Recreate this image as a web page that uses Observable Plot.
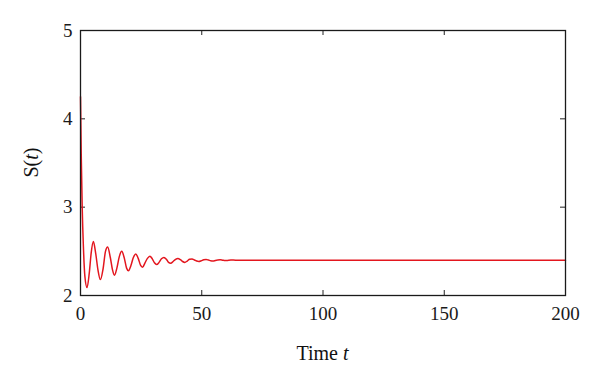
<!DOCTYPE html>
<html>
<head>
<meta charset="utf-8">
<script src="https://cdn.jsdelivr.net/npm/d3@7"></script>
<script src="https://cdn.jsdelivr.net/npm/@observablehq/plot@0.6"></script>
<style>
  html, body { margin: 0; padding: 0; background: #fff; }
  svg { display: block; }
  svg g[aria-label$="tick label"] text { font-family: 'Liberation Serif', 'DejaVu Serif', serif !important; font-size: 19px !important; fill: #1a1a1a; }
</style>
</head>
<body>
<div id="chart"></div>
<script>
// Time values (t)
const timeT = [0, 0.3, 0.7, 1.2, 1.8, 2.7, 3.6, 4.4, 5.3, 6.3, 7.2, 8.2, 9.3, 10.3, 11.2, 12.3, 13.2, 14.0, 15.0, 16.0, 17.0, 18.0, 19.0, 19.8, 20.8, 21.8, 22.8, 23.8, 24.8, 25.6, 26.6, 27.6, 28.6, 29.6, 30.5, 31.4, 32.4, 33.4, 34.4, 35.4, 36.3, 37.2, 38.2, 39.2, 40.2, 41.2, 42.1, 43.0, 44.0, 45.0, 46.0, 47.0, 47.9, 48.8, 49.8, 50.8, 51.8, 52.8, 53.7, 54.6, 55.6, 56.6, 57.6, 58.6, 59.6, 60.6, 62, 64, 70, 80, 100, 120, 150, 180, 200];
// S(t) values
const sValues = [4.25, 3.6, 3.0, 2.55, 2.22, 2.09, 2.25, 2.48, 2.61, 2.47, 2.29, 2.18, 2.3, 2.5, 2.55, 2.43, 2.29, 2.23, 2.31, 2.44, 2.5, 2.43, 2.31, 2.28, 2.34, 2.43, 2.47, 2.42, 2.34, 2.32, 2.37, 2.42, 2.445, 2.415, 2.37, 2.35, 2.375, 2.415, 2.43, 2.41, 2.375, 2.365, 2.385, 2.41, 2.42, 2.405, 2.385, 2.375, 2.39, 2.41, 2.413, 2.402, 2.39, 2.385, 2.393, 2.405, 2.408, 2.401, 2.393, 2.39, 2.396, 2.403, 2.405, 2.4, 2.395, 2.397, 2.401, 2.4, 2.4, 2.4, 2.4, 2.4, 2.4, 2.4, 2.4];

const xTicks = [0, 50, 100, 150, 200];
const yTicks = [2, 3, 4, 5];

const data = timeT.map((t, i) => ({t, s: sValues[i]}));

const W = 600, H = 377;
const mL = 80, mR = 35, mT = 30, mB = 82;
const plotW = W - mL - mR, plotH = H - mT - mB;
const tickLen = 5;
const font = "'Liberation Serif', 'DejaVu Serif', serif";

const chart = Plot.plot({
  width: W,
  height: H,
  marginLeft: mL,
  marginRight: mR,
  marginTop: mT,
  marginBottom: mB,
  style: {fontFamily: font, fontSize: "19px", color: "#1a1a1a", background: "#fff"},
  x: {domain: [0, 200], ticks: xTicks, label: null},
  y: {domain: [2, 5], ticks: yTicks, label: null},
  marks: [
    Plot.axisX({ticks: xTicks, tickSize: 0, tickPadding: 11, label: null, tickFormat: d3.format("d")}),
    Plot.axisY({ticks: yTicks, tickSize: 0, tickPadding: 8, label: null, tickFormat: d3.format("d")}),
    Plot.tickX(xTicks, {x: d => d, insetTop: plotH - tickLen, stroke: "#222", strokeWidth: 1}),
    Plot.tickX(xTicks, {x: d => d, insetBottom: plotH - tickLen, stroke: "#222", strokeWidth: 1}),
    Plot.tickY(yTicks, {y: d => d, insetRight: plotW - tickLen, stroke: "#222", strokeWidth: 1}),
    Plot.tickY(yTicks, {y: d => d, insetLeft: plotW - tickLen, stroke: "#222", strokeWidth: 1}),
    Plot.line(data, {x: "t", y: "s", stroke: "#e3161e", strokeWidth: 1.5, curve: "monotone-x"}),
    Plot.frame({stroke: "#1a1a1a", strokeWidth: 1.3})
  ]
});

document.getElementById("chart").appendChild(chart);

// Axis titles with italic variable
const svg = d3.select(chart);
const xs = chart.scale("x"), ys = chart.scale("y");
const xMid = (xs.apply(0) + xs.apply(200)) / 2;
const yMid = (ys.apply(2) + ys.apply(5)) / 2;

const xl = svg.append("text")
  .attr("x", xMid).attr("y", H - 17)
  .attr("text-anchor", "middle")
  .style("font-family", font).style("font-size", "20px").attr("fill", "#111");
xl.append("tspan").text("Time ");
xl.append("tspan").attr("font-style", "italic").text("t");

const yl = svg.append("text")
  .attr("transform", `translate(38,${yMid}) rotate(-90)`)
  .attr("text-anchor", "middle")
  .style("font-family", font).style("font-size", "20px").attr("fill", "#111");
yl.append("tspan").text("S(");
yl.append("tspan").attr("font-style", "italic").text("t");
yl.append("tspan").text(")");
</script>
</body>
</html>
